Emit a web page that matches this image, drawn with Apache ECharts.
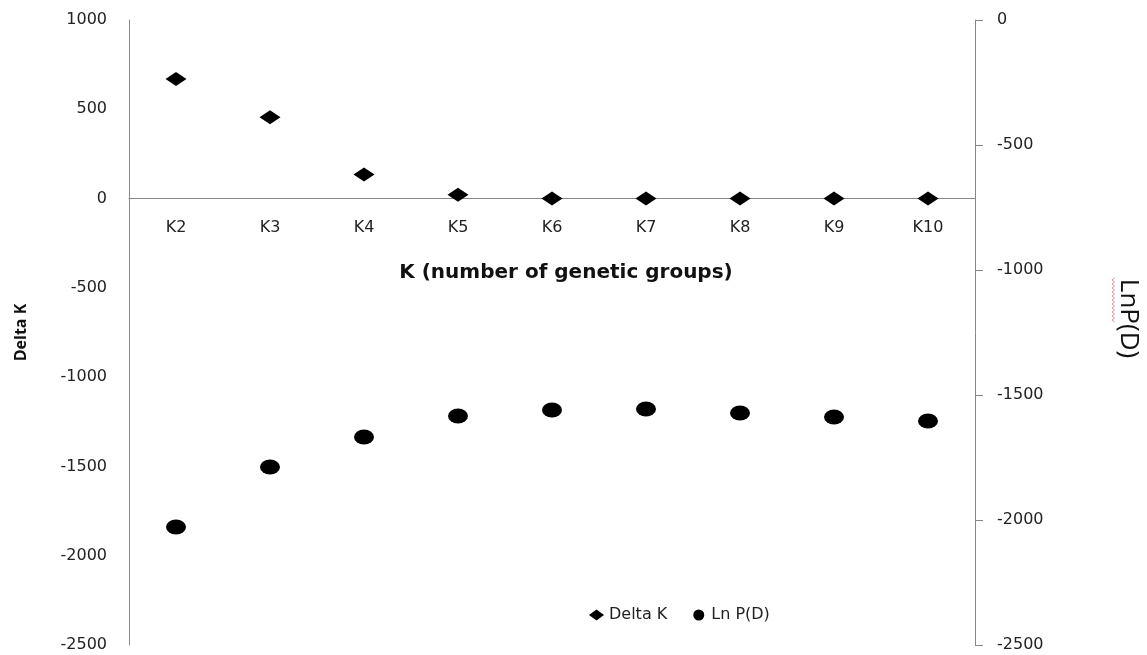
<!DOCTYPE html>
<html>
<head>
<meta charset="utf-8">
<title>Delta K and Ln P(D) by K</title>
<script src="https://cdn.jsdelivr.net/npm/echarts@6/dist/echarts.min.js"></script>
<style>
  html, body { margin: 0; padding: 0; background: #fff; }
  #chart { width: 1147px; height: 655px; }
</style>
</head>
<body>
<div id="chart"></div>
<script>
// Number of genetic groups tested
const categories = ['K2', 'K3', 'K4', 'K5', 'K6', 'K7', 'K8', 'K9', 'K10'];
// Evanno Delta K for each K (left axis)
const deltaK = [669, 455, 135, 22, 1, 1, 1, 1, 1];
// Mean log-likelihood Ln P(D) for each K (right axis)
const lnPD = [-2028, -1788, -1668, -1584, -1560, -1556, -1572, -1588, -1604];
// Axis tick settings
const leftTicks = { min: -2500, max: 1000, interval: 500 };
const rightTicks = { min: -2500, max: 0, interval: 500 };
const xTitle = 'K (number of genetic groups)';

const axisGray = '#878787';
const textColor = '#222';
const tickFont = 'DejaVu Sans';
// Ellipse marker, stretched to its symbolSize
const ellipse = 'path://M0,50a50,50 0 1,0 100,0a50,50 0 1,0 -100,0z';
const plainNumber = v => String(v);

// Wavy proofing underline beside the rotated right-axis title
const squiggle = [];
for (let y = 278; y <= 322; y += 2) {
  squiggle.push([(y / 2) % 2 === 0 ? 1112 : 1114.5, y]);
}

const chart = echarts.init(document.getElementById('chart'));
chart.setOption({
  animation: false,
  backgroundColor: '#fff',
  grid: { left: 129, right: 172, top: 20, bottom: 10, containLabel: false, outerBoundsMode: 'none' },
  legend: {
    left: 584,
    top: 602,
    itemGap: 26,
    itemWidth: 15,
    itemHeight: 11,
    textStyle: { fontFamily: tickFont, fontSize: 16, color: textColor },
    data: [
      { name: 'Delta K', icon: 'diamond' },
      { name: 'Ln P(D)', icon: ellipse }
    ]
  },
  xAxis: {
    type: 'category',
    data: categories,
    boundaryGap: true,
    axisLine: { onZero: true, lineStyle: { color: axisGray, width: 1 } },
    axisTick: { show: false },
    axisLabel: { show: false },
    splitLine: { show: false }
  },
  yAxis: [
    {
      type: 'value',
      position: 'left',
      min: leftTicks.min,
      max: leftTicks.max,
      interval: leftTicks.interval,
      axisLine: { show: true, onZero: false, lineStyle: { color: axisGray, width: 1 } },
      axisTick: { show: false },
      axisLabel: { margin: 22, fontFamily: tickFont, fontSize: 16, color: textColor, formatter: plainNumber },
      splitLine: { show: false },
      name: 'Delta K',
      nameLocation: 'middle',
      nameGap: 100,
      nameTextStyle: { fontFamily: 'Open Sans', fontWeight: 'bold', fontSize: 16, color: '#111' }
    },
    {
      type: 'value',
      position: 'right',
      min: rightTicks.min,
      max: rightTicks.max,
      interval: rightTicks.interval,
      axisLine: { show: true, onZero: false, lineStyle: { color: axisGray, width: 1 } },
      axisTick: { show: true, length: 8, lineStyle: { color: axisGray } },
      axisLabel: { margin: 22, fontFamily: tickFont, fontSize: 16, color: textColor, formatter: plainNumber },
      splitLine: { show: false },
      name: 'LnP(D)',
      nameLocation: 'middle',
      nameGap: 140,
      nameRotate: -90,
      nameTextStyle: { fontFamily: 'Open Sans', fontSize: 26, color: '#111', padding: [0, 28, 0, 0] }
    }
  ],
  graphic: [
    {
      type: 'text',
      x: 566,
      y: 273,
      style: {
        text: xTitle,
        fontFamily: tickFont,
        fontWeight: 'bold',
        fontSize: 20,
        fill: '#111',
        align: 'center',
        verticalAlign: 'middle'
      }
    },
    {
      type: 'polyline',
      shape: { points: squiggle },
      style: { stroke: '#f08a8a', lineWidth: 1, fill: null }
    }
  ],
  series: [
    {
      // Category names sitting just under the zero line
      name: 'K labels',
      type: 'scatter',
      yAxisIndex: 0,
      silent: true,
      symbolSize: 1,
      itemStyle: { color: 'rgba(0,0,0,0)' },
      label: {
        show: true,
        position: 'bottom',
        distance: 21,
        formatter: p => p.value[0],
        fontFamily: tickFont,
        fontSize: 16,
        color: textColor,
        opacity: 1
      },
      data: categories.map(c => [c, 0]),
      z: 1
    },
    {
      name: 'Delta K',
      type: 'scatter',
      yAxisIndex: 0,
      symbol: 'diamond',
      symbolSize: [21, 14],
      itemStyle: { color: '#000', opacity: 1 },
      data: deltaK,
      z: 5
    },
    {
      name: 'Ln P(D)',
      type: 'scatter',
      yAxisIndex: 1,
      symbol: ellipse,
      symbolSize: [20, 15],
      itemStyle: { color: '#000', opacity: 1 },
      data: lnPD,
      z: 5
    }
  ]
});
</script>
</body>
</html>
